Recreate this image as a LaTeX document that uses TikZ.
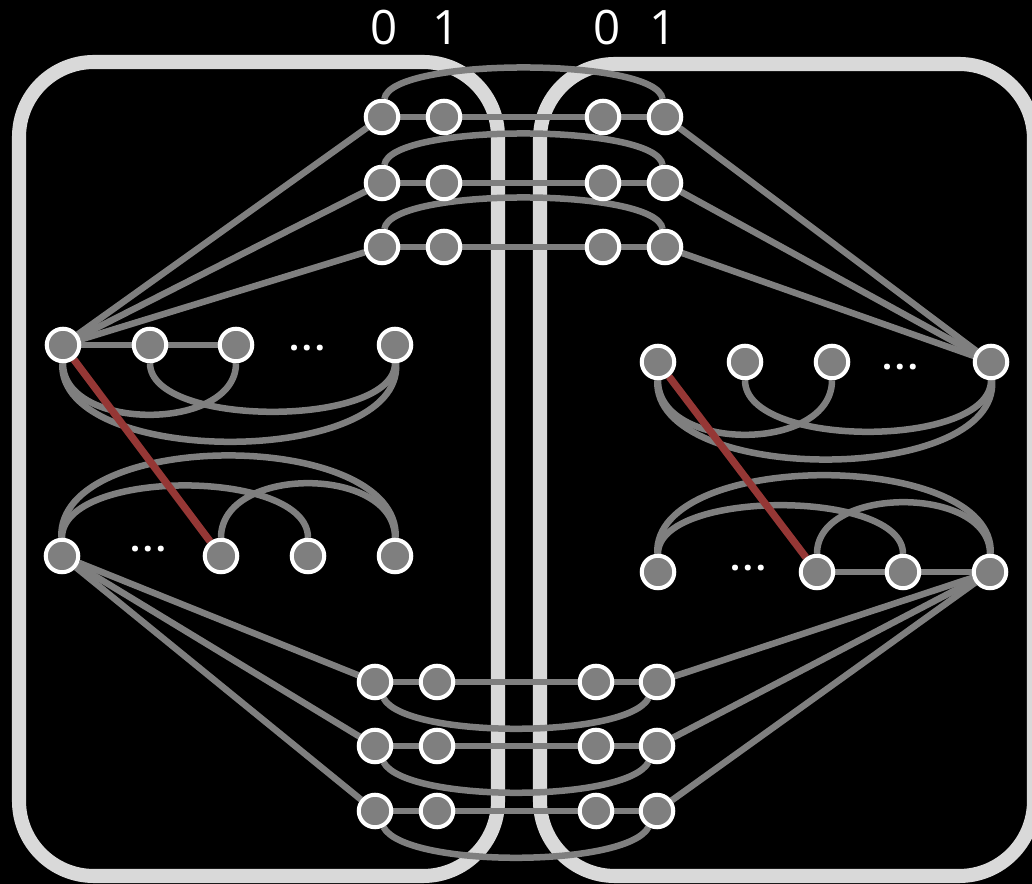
\documentclass[tikz,border=0pt]{standalone}
\usepackage{fontspec}
\setmainfont{Open Sans}
\usepackage{xcolor}
\usetikzlibrary{positioning, backgrounds}

\definecolor{linkgray}{HTML}{7F7F7F}
\definecolor{framegray}{HTML}{D9D9D9}
\definecolor{cutred}{HTML}{953735}

\newcommand{\skipdots}{.\kern1.6pt.\kern1.6pt.}

\begin{document}
\begin{tikzpicture}[x=0.02cm,y=-0.02cm,
    vertex/.style={circle,draw=white,fill=linkgray,line width=2.3pt,minimum size=0.65cm,inner sep=0pt},
    link/.style={draw=linkgray,line width=3.7pt},
    cut/.style={draw=cutred,line width=4.2pt},
    party/.style={draw=framegray,line width=8pt,rounded corners=1.5cm},
    bit/.style={text=white,inner sep=0pt,font=\fontsize{27}{27}\selectfont},
    more/.style={text=white,inner sep=0pt,font=\bfseries\fontsize{20}{20}\selectfont}]
  \useasboundingbox (0,0) rectangle (1032,884);

  % bit pairs shared by both sides
  \foreach \r/\y in {1/117,2/183,3/247}
    \foreach \c/\x in {0/382,1/444,2/603,3/665}
      \node[vertex] (up\c\r) at (\x,\y) {};
  \foreach \r/\y in {1/682,2/746,3/811}
    \foreach \c/\x in {0/375,1/437,2/596,3/657}
      \node[vertex] (dn\c\r) at (\x,\y) {};

  \node[bit] (lzero) at (384,28) {0};
  \node[bit] (lone)  at (446,28) {1};
  \node[bit] (rzero) at (607,28) {0};
  \node[bit] (rone)  at (663,28) {1};

  % left side
  \node[vertex] (la1) at (63,345) {};
  \node[vertex] (la2) at (150,345) {};
  \node[vertex] (la3) at (236,345) {};
  \node[more]   (la4) at (307,348) {\skipdots};
  \node[vertex] (la5) at (395,345) {};
  \node[vertex] (lb1) at (62,556) {};
  \node[more]   (lb2) at (148,549) {\skipdots};
  \node[vertex] (lb3) at (221,556) {};
  \node[vertex] (lb4) at (308,556) {};
  \node[vertex] (lb5) at (395,556) {};

  % right side
  \node[vertex] (ra1) at (658,362) {};
  \node[vertex] (ra2) at (745,362) {};
  \node[vertex] (ra3) at (832,362) {};
  \node[more]   (ra4) at (900,367) {\skipdots};
  \node[vertex] (ra5) at (991,362) {};
  \node[vertex] (rb1) at (658,572) {};
  \node[more]   (rb2) at (748,568) {\skipdots};
  \node[vertex] (rb3) at (817,572) {};
  \node[vertex] (rb4) at (903,572) {};
  \node[vertex] (rb5) at (990,572) {};

  \begin{scope}[on background layer]
    \clip (0,0) rectangle (1032,884);
    \fill[black] (0,0) rectangle (1032,884);
    \draw[party] (19,62) rectangle (498,876);
    \draw[party] (540,64) rectangle (1034,876);

    \foreach \r in {1,2,3}{
      \draw[link] (up0\r) -- (up1\r) -- (up2\r) -- (up3\r);
      \draw[link] (up0\r) .. controls +(8,-60) and +(-8,-60) .. (up3\r);
      \draw[link] (la1) -- (up0\r);
      \draw[link] (ra5) -- (up3\r);
      \draw[link] (dn0\r) -- (dn1\r) -- (dn2\r) -- (dn3\r);
      \draw[link] (dn0\r) .. controls +(30,57) and +(-30,57) .. (dn3\r);
      \draw[link] (lb1) -- (dn0\r);
      \draw[link] (rb5) -- (dn3\r);
    }

    \draw[link] (la1) -- (la2) -- (la3);
    \draw[link] (la1) .. controls +(0,87) and +(0,87) .. (la3);
    \draw[link] (la2) .. controls +(0,83) and +(0,83) .. (la5);
    \draw[link] (la1) .. controls +(-5,123) and +(8,123) .. (la5);
    \draw[link] (lb1) .. controls +(0,-88) and +(0,-88) .. (lb4);
    \draw[link] (lb1) .. controls +(-5,-128) and +(5,-128) .. (lb5);
    \draw[link] (lb3) .. controls +(0,-91) and +(0,-91) .. (lb5);

    \draw[link] (ra1) .. controls +(0,91) and +(0,91) .. (ra3);
    \draw[link] (ra2) .. controls +(0,87) and +(0,87) .. (ra5);
    \draw[link] (ra1) .. controls +(-5,124) and +(8,124) .. (ra5);
    \draw[link] (rb3) -- (rb4) -- (rb5);
    \draw[link] (rb1) .. controls +(0,-83) and +(0,-83) .. (rb4);
    \draw[link] (rb1) .. controls +(-5,-123) and +(5,-123) .. (rb5);
    \draw[link] (rb3) .. controls +(0,-87) and +(0,-87) .. (rb5);

    \draw[cut] (la1) -- (lb3);
    \draw[cut] (ra1) -- (rb3);
  \end{scope}
\end{tikzpicture}
\end{document}
